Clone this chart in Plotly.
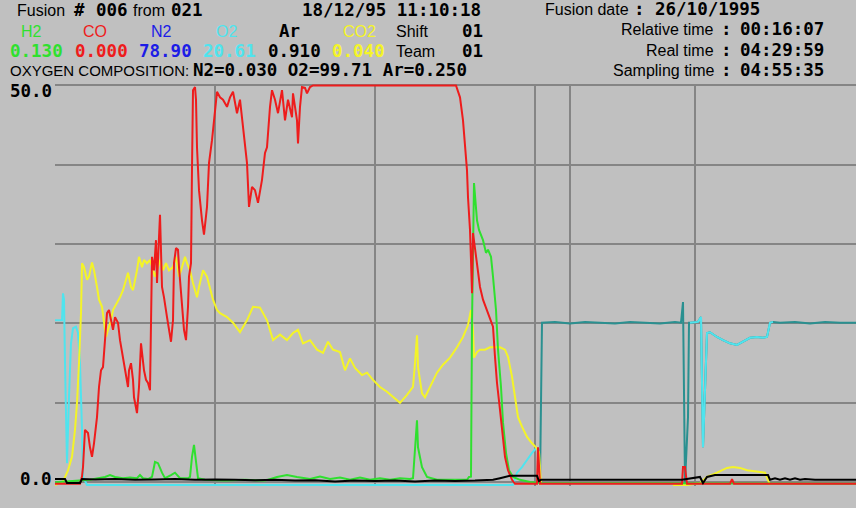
import plotly.graph_objects as go

# ------------------------------------------------------------------ data
# time axis in samples, values in %
T_CO = [0, 25, 27, 28, 30, 33, 35, 37, 39, 42, 44, 46, 48, 50, 52, 54, 56, 58, 60, 63,
        65, 67, 69, 71, 73, 74, 76, 78, 79, 82, 84, 86, 87, 89, 91, 93, 95, 96, 97, 99,
        101, 102, 105, 107, 109, 112, 114, 116, 118, 119, 121, 123, 124, 126, 128, 129, 131, 133, 134, 136,
        137, 138, 140, 141, 142, 144, 147, 149, 152, 154, 157, 160, 162, 165, 168, 172, 175, 178, 182, 185,
        188, 192, 194, 197, 200, 203, 207, 210, 212, 215, 217, 220, 223, 227, 230, 233, 237, 238, 242, 243,
        245, 247, 250, 252, 255, 258, 401, 405, 408, 410, 412, 413, 415, 416, 417, 418, 422, 425, 428, 432,
        435, 438, 440, 442, 445, 448, 450, 453, 457, 460, 482, 483, 485, 627, 628, 630, 632, 675, 677, 679,
        801]
V_CO = [-0.2, -0.2, 0.7, 1.9, 6.6, 6.2, 4.4, 3.2, 4.9, 8.2, 12.0, 14.1, 14.5, 17.9, 21.3, 21.7, 20.4, 19.2, 20.8, 20.1,
        17.9, 16.3, 15.0, 13.3, 12.0, 14.1, 15.0, 12.9, 10.7, 8.7, 12.0, 17.5, 16.3, 14.1, 12.9, 12.5, 11.6, 19.2, 28.4, 26.7,
        30.5, 25.1, 33.7, 24.6, 23.3, 20.8, 19.2, 17.7, 20.4, 27.6, 29.5, 29.3, 27.1, 24.2, 20.8, 19.2, 17.9, 22.1, 25.9, 27.6,
        39.6, 49.4, 49.8, 48.2, 42.2, 36.8, 33.0, 31.2, 34.7, 40.2, 43.1, 46.5, 49.2, 48.5, 48.2, 47.3, 48.5, 49.2, 46.5, 48.2,
        44.8, 40.2, 34.7, 37.2, 36.8, 35.2, 38.1, 41.5, 42.2, 47.3, 49.4, 48.2, 46.5, 49.4, 45.6, 48.2, 46.0, 49.0, 45.6, 42.7,
        47.3, 49.8, 49.7, 49.0, 49.8, 50.0, 50.0, 48.5, 45.6, 42.2, 39.3, 35.9, 31.8, 28.0, 23.8, 31.4, 27.1, 24.6, 23.0, 21.7,
        20.8, 19.6, 15.8, 12.5, 9.1, 5.7, 3.2, 1.5, 0.3, -0.2, -0.2, 4.4, -0.2, -0.2, 1.9, 1.9, -0.2, -0.2, 0.4, -0.2,
        -0.2]

T_CO2 = [0, 8, 13, 17, 20, 22, 24, 26, 27, 29, 32, 34, 37, 39, 42, 44, 47, 49, 51, 53,
         56, 58, 62, 65, 68, 71, 73, 76, 78, 82, 84, 87, 89, 92, 95, 98, 100, 103, 105, 108,
         111, 114, 118, 121, 124, 127, 130, 132, 135, 138, 142, 144, 148, 152, 155, 158, 162, 165, 172, 178,
         185, 192, 198, 205, 212, 218, 225, 232, 238, 243, 248, 255, 262, 268, 273, 278, 285, 290, 295, 300,
         307, 312, 318, 325, 332, 338, 345, 352, 358, 360, 362, 363, 367, 370, 375, 382, 388, 395, 402, 408,
         413, 416, 418, 419, 422, 425, 430, 435, 440, 445, 450, 453, 457, 460, 463, 467, 472, 477, 481, 484,
         486, None, 618, 632, 645, 652, 662, 672, 678, 685, 692, 702, 710, 715]
V_CO2 = [-0.35, 0.1, 1.5, 3.2, 6.6, 10.0, 15.0, 21.3, 27.6, 27.1, 25.5, 25.9, 27.7, 26.7, 24.6, 23.0, 22.1, 20.4, 18.3, 19.2,
         20.4, 21.7, 22.6, 23.3, 24.2, 25.5, 26.4, 24.6, 24.2, 26.7, 28.4, 27.1, 28.0, 27.6, 28.0, 26.7, 25.9, 27.1, 28.0, 26.7,
         27.6, 26.7, 27.1, 28.4, 25.9, 27.1, 28.4, 27.6, 26.7, 25.1, 23.3, 24.6, 26.7, 25.9, 24.6, 23.0, 21.7, 21.3, 20.8, 20.1,
         18.9, 20.4, 22.1, 22.0, 20.4, 17.9, 18.6, 17.9, 18.8, 19.2, 17.5, 17.9, 16.7, 16.3, 17.7, 16.7, 16.4, 14.1, 15.6, 14.4,
         13.5, 13.8, 12.9, 12.0, 11.4, 10.7, 10.0, 11.0, 12.0, 15.0, 18.5, 14.5, 11.2, 10.7, 12.0, 13.8, 14.8, 15.7, 17.0, 18.3,
         19.8, 21.7, 19.2, 15.7, 16.4, 16.7, 16.7, 17.0, 17.0, 17.0, 16.7, 15.8, 13.3, 10.4, 8.2, 7.0, 5.7, 4.9, 4.4, 3.8,
         -0.35, None, -0.35, -0.35, -0.1, 0.66, 1.2, 1.8, 1.9, 1.8, 1.5, 1.3, 1.2, -0.35]

T_H2 = [0, 35, 50, 55, 60, 68, 75, 82, 85, 88, 93, 97, 100, 103, 107, 110, 116, 120, 125, 133,
        135, 137, 139, 141, 143, 150, 170, 190, 210, 222, 232, 242, 255, 265, 275, 285, 295, 305, 315, 325,
        335, 345, 355, 358, 360, 362, 363, 367, 372, 382, 400, 412, 414, 416, 417, 419, 422, 424, 428, 431,
        433, 436, 438, 441, 443, 446, 448, 451, 454, 458, 465, 475, 485, 801]
V_H2 = [0.0, 0.3, 0.66, 0.9, 0.66, 0.5, 0.6, 0.5, 0.9, 0.5, 0.4, 0.66, 2.55, 2.4, 1.2, 0.5, 0.9, 1.2, 0.5, 0.5,
        0.66, 3.2, 4.7, 2.4, 0.5, 0.3, 0.2, 0.3, 0.2, 0.66, 0.9, 0.66, 0.4, 0.7, 0.4, 0.6, 0.3, 0.6, 0.3, 0.5,
        0.3, 0.5, 0.4, 0.5, 4.4, 7.8, 4.4, 1.9, 0.66, 0.3, 0.3, 0.3, 0.66, 0.7, 20.0, 37.7, 33.0, 31.8, 30.5, 28.9,
        29.3, 28.4, 25.9, 21.7, 16.7, 12.0, 7.5, 3.7, 1.5, 0.66, 0.3, 0.03, -0.1, -0.2]

T_O2_A = [0, 7, 8, 9, 10, 11, 12, 14, 16, 18, 21, 23, 25, 27, 28, 32, 458, 462, 467, 472, 477, 482]
V_O2_A = [20.4, 20.4, 23.8, 23.0, 15.0, 6.6, 2.4, 10.7, 17.5, 19.4, 19.6, 18.8, 15.0, 6.6, 0.66, -0.35,
          -0.35, 1.2, 1.9, 2.8, 3.7, 4.4]
T_O2_B = [635, 643, 646, 647, 648, 650, 652, 655, 662, 668, 675, 682, 688, 695, 702, 708, 712, 715, 718]
V_O2_B = [20.1, 20.2, 20.8, 13.8, 4.4, 11.6, 18.8, 18.9, 18.3, 17.9, 17.5, 17.3, 17.7, 18.2, 18.3, 18.2,
          18.3, 20.1, 20.2]

T_O2S = [485, 487, 500, 515, 530, 545, 560, 575, 590, 605, 620, 626, 628, 630, 633, 634]
V_O2S = [-0.2, 20.1, 20.2, 20.0, 20.2, 20.1, 20.0, 20.2, 20.1, 20.0, 20.2, 20.1, 22.7, -0.1, 8.2, 20.1]
T_O2S_TAIL = [725, 740, 755, 770, 785, 801]
V_O2S_TAIL = [20.1, 20.2, 20.0, 20.2, 20.1, 20.1]

T_AR = [0, 10, 12, 25, 27, 40, 60, 80, 100, 120, 140, 160, 180, 200, 220, 240, 260, 280, 300, 320,
        340, 360, 380, 400, 420, 438, 445, 455, 482, 484, 486, 520, 560, 600, 627, 645, 648, 652, 660, 713,
        715, 720, 725, 730, 735, 740, 745, 750, 760, 801]
V_AR = [0.4, 0.4, -0.1, -0.1, 0.4, 0.35, 0.4, 0.3, 0.35, 0.4, 0.3, 0.35, 0.3, 0.25, 0.3, 0.2, 0.25, 0.1, 0.2, 0.15,
        0.2, 0.1, 0.2, 0.15, 0.2, 0.3, 0.5, 0.8, 0.8, 0.15, 0.3, 0.3, 0.35, 0.3, 0.3, 0.66, -0.1, 0.66, 0.9, 0.9,
        0.3, 0.5, 0.3, 0.5, 0.3, 0.5, 0.3, 0.4, 0.3, 0.3]

GRID_T = [0, 160, 320, 480, 640]
CURSOR_T = 515
Y_TICKS = [0, 10, 20, 30, 40, 50]
Y_LABELS = ["50.0", "0.0"]

for a, b in [(T_CO, V_CO), (T_CO2, V_CO2), (T_H2, V_H2), (T_O2_A, V_O2_A), (T_O2_B, V_O2_B),
             (T_O2S, V_O2S), (T_O2S_TAIL, V_O2S_TAIL), (T_AR, V_AR)]:
    assert len(a) == len(b), (len(a), len(b))

# ------------------------------------------------------------------ styling
W, H = 856, 508
L, R, TOP, BOT = 55, 0, 84, 22
PW, PH = W - L - R, H - TOP - BOT
BG = "#c0c0c0"
GRID = "#858585"
MONO = "DejaVu Sans Mono"
SANS = "Liberation Sans"
C_H2, C_CO, C_N2, C_O2, C_AR, C_CO2 = "#2fe02f", "#ee1c1c", "#1c1ce6", "#4fe4ee", "#000000", "#f4f428"
C_TEAL = "#2a9090"


def px(x):
    return (x - L) / PW


def py(y):
    return (H - BOT - y) / PH


fig = go.Figure()


def line(t, v, color):
    fig.add_trace(go.Scatter(x=t, y=v, mode="lines", line=dict(color=color, width=2),
                             showlegend=False, hoverinfo="skip", connectgaps=False))


line(T_O2S + T_O2_B + T_O2S_TAIL, V_O2S + V_O2_B + V_O2S_TAIL, C_TEAL)
line(T_O2_A, V_O2_A, C_O2)
line(T_O2_B, V_O2_B, C_O2)
line(T_CO2, V_CO2, C_CO2)
line(T_H2, V_H2, C_H2)
line(T_CO, V_CO, C_CO)
line(T_AR, V_AR, C_AR)


def txt(s, x, y, color="#000000", font=SANS, size=16, anchor="left", bold=False):
    fig.add_annotation(text=f"<b>{s}</b>" if bold else s, x=px(x), y=py(y), xref="paper", yref="paper",
                       xanchor=anchor, yanchor="middle", showarrow=False, borderpad=0,
                       font=dict(family=font, size=size, color=color))


MS = 17.5
# row 1
txt("Fusion", 16, 10)
txt("#", 73, 10, font=MONO, size=MS, bold=True)
txt("006", 95, 10, font=MONO, size=MS, bold=True)
txt("from", 132, 10)
txt("021", 170, 10, font=MONO, size=MS, bold=True)
txt("18/12/95 11:10:18", 301, 10, font=MONO, size=MS, bold=True)
txt("Fusion date", 630, 9, anchor="right")
txt(":", 639, 9, font=MONO, size=MS, bold=True, anchor="center")
txt("26/10/1995", 654, 9, font=MONO, size=MS, bold=True)
# row 2
for name, cx, col in [("H2", 31, C_H2), ("CO", 95, C_CO), ("N2", 161, C_N2), ("O2", 226, C_O2),
                      ("CO2", 359, C_CO2)]:
    txt(name, cx, 31, color=col, anchor="center")
txt("Ar", 289, 31, font=MONO, size=MS, bold=True, anchor="center")
txt("Shift", 395, 31)
txt("01", 461, 31, font=MONO, size=MS, bold=True)
txt("Relative time", 715, 29, anchor="right")
txt(":", 726, 29, font=MONO, size=MS, bold=True, anchor="center")
txt("00:16:07", 739, 29, font=MONO, size=MS, bold=True)
# row 3
for val, lx, col in [("0.130", 9, C_H2), ("0.000", 74, C_CO), ("78.90", 138, C_N2), ("20.61", 202, C_O2),
                     ("0.910", 267, C_AR), ("0.040", 331, C_CO2)]:
    txt(val, lx, 51, color=col, font=MONO, size=MS, bold=True)
txt("Team", 395, 51)
txt("01", 461, 51, font=MONO, size=MS, bold=True)
txt("Real time", 715, 50, anchor="right")
txt(":", 726, 50, font=MONO, size=MS, bold=True, anchor="center")
txt("04:29:59", 739, 50, font=MONO, size=MS, bold=True)
# row 4
txt("OXYGEN COMPOSITION:", 9, 70, size=15)
txt("N2=0.030 O2=99.71 Ar=0.250", 192, 70, font=MONO, size=MS, bold=True)
txt("Sampling time", 715, 70, anchor="right")
txt(":", 726, 70, font=MONO, size=MS, bold=True, anchor="center")
txt("04:55:35", 739, 70, font=MONO, size=MS, bold=True)
# y labels
txt(Y_LABELS[0], 53, 91, font=MONO, size=MS, bold=True, anchor="right")
txt(Y_LABELS[1], 53, 479, font=MONO, size=MS, bold=True, anchor="right")

fig.update_layout(
    width=W, height=H, margin=dict(l=L, r=R, t=TOP, b=BOT, pad=0),
    paper_bgcolor=BG, plot_bgcolor=BG, showlegend=False,
    xaxis=dict(range=[0, 801], tickvals=GRID_T + [CURSOR_T], showticklabels=False, ticks="",
               showgrid=True, gridcolor=GRID, gridwidth=2, zeroline=False, fixedrange=True),
    yaxis=dict(range=[-0.48, 50.18], tickvals=Y_TICKS, showticklabels=False, ticks="",
               showgrid=True, gridcolor=GRID, gridwidth=2, zeroline=False, fixedrange=True),
)

fig.write_html("out.html", config={"displayModeBar": False},
               post_script="document.body.style.margin='0px';document.body.style.overflow='hidden';")
